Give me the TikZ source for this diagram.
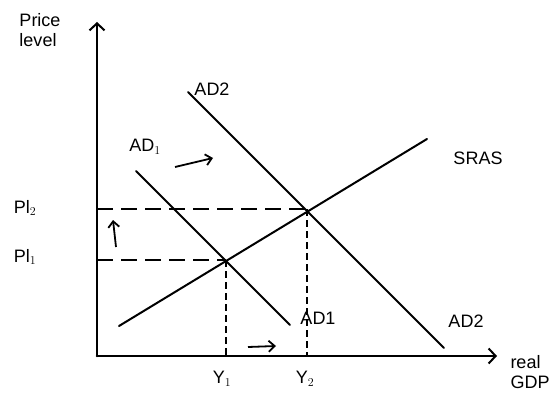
\documentclass[tikz,border=0pt]{standalone}
\usepackage{fontspec}
\setmainfont{Liberation Sans}
\usetikzlibrary{arrows.meta}
\begin{document}
\begin{tikzpicture}[x=1pt,y=-1pt,
  curve/.style={line width=2pt,line cap=round},
  axis/.style={line width=2.6pt,line cap=round},
  guide/.style={line width=2pt,dash pattern=on 16pt off 8pt},
  vguide/.style={line width=1.8pt,dash pattern=on 7pt off 4pt},
  shiftarrow/.style={line width=1.8pt,-{Straight Barb[length=6pt,width=11pt,line width=1.8pt]}},
  lbl/.style={font=\fontsize{18}{20}\selectfont,inner sep=1pt}]
\useasboundingbox (0,0) rectangle (559,398);
% coordinates
\coordinate (O) at (97,356);
\coordinate (Ytop) at (97,22);
\coordinate (Xend) at (497,356);
\coordinate (ad2s) at (188,92);
\coordinate (ad2e) at (444,348);
\coordinate (ad1s) at (136,171);
\coordinate (ad1e) at (290,325);
\coordinate (srs) at (119,326);
\coordinate (sre) at (427,139);
\coordinate (E1) at (226,260);
\coordinate (E2) at (307,209);
\coordinate (P1) at (97,260);
\coordinate (P2) at (97,209);
\coordinate (Y1) at (226,356);
\coordinate (Y2) at (307,356);
% axes
\draw[axis,-{Straight Barb[length=7pt,width=15pt,line width=2pt]}] (O) -- (Ytop);
\draw[axis,-{Straight Barb[length=7pt,width=15pt,line width=2pt]}] (O) -- (Xend);
% curves
\draw[curve] (ad2s) -- (ad2e);
\draw[curve] (ad1s) -- (ad1e);
\draw[curve] (srs) -- (sre);
% guides
\draw[guide] (P2) -- (E2);
\draw[guide] (P1) -- (E1);
\draw[vguide] (E1) -- (Y1);
\draw[vguide] (E2) -- (Y2);
% shift arrows
\coordinate (a1s) at (175,167); \coordinate (a1e) at (213,158);
\coordinate (a2s) at (116,247); \coordinate (a2e) at (113,220);
\coordinate (a3s) at (248,347); \coordinate (a3e) at (276,346);
\draw[shiftarrow] (a1s) -- (a1e);
\draw[shiftarrow] (a2s) -- (a2e);
\draw[shiftarrow] (a3s) -- (a3e);
% labels
\node[lbl,align=left] (pl) at (40,30) {Price\\level};
\node[lbl] (lad2t) at (212,89) {AD2};
\node[lbl] (lad1t) at (145,147) {AD$_1$};
\node[lbl] (lsras) at (478,158) {SRAS};
\node[lbl] (lpl2) at (25,208) {Pl$_2$};
\node[lbl] (lpl1) at (25,257) {Pl$_1$};
\node[lbl] (lad1b) at (318,318) {AD1};
\node[lbl] (lad2b) at (466,321) {AD2};
\node[lbl] (ly1) at (222,379) {Y$_1$};
\node[lbl] (ly2) at (305,379) {Y$_2$};
\node[lbl,align=left] (lgdp) at (530,372) {real\\GDP};
\end{tikzpicture}
\end{document}
